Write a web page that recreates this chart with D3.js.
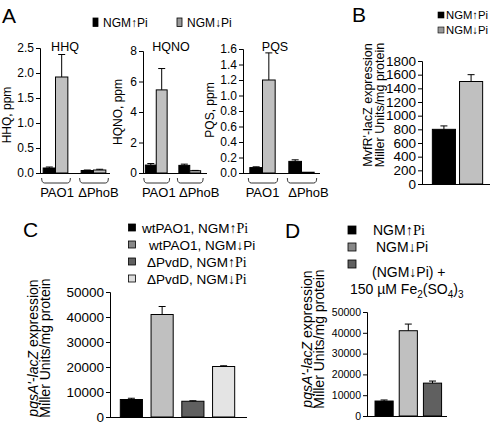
<!DOCTYPE html>
<html><head><meta charset="utf-8">
<script src="https://cdn.jsdelivr.net/npm/d3@7"></script>
<style>body{margin:0;background:#fff} svg{display:block}</style>
</head><body><svg id="c" width="490" height="428"></svg>
<script>
// ---------- DATA ----------
const groupsA = ["PAO1", "ΔPhoB"];
const seriesA = ["NGM↑Pi", "NGM↓Pi"];
const hhqHighPi = [0.10, 0.05];
const hhqLowPi = [1.92, 0.06];
const hhqHighErr = [0.02, 0.01];
const hhqLowErr = [0.45, 0.015];
const hhqTicks = [0, 0.5, 1.0, 1.5, 2.0, 2.5];
const hqnoHighPi = [0.52, 0.50];
const hqnoLowPi = [5.45, 0.15];
const hqnoHighErr = [0.10, 0.08];
const hqnoLowErr = [1.40, 0.02];
const hqnoTicks = [0, 2, 4, 6, 8];
const pqsHighPi = [0.07, 0.15];
const pqsLowPi = [1.20, 0.01];
const pqsHighErr = [0.01, 0.02];
const pqsLowErr = [0.35, 0.0];
const pqsTicks = [0, 0.2, 0.4, 0.6, 0.8, 1.0, 1.2, 1.4, 1.6];

const seriesB = ["NGM↑Pi", "NGM↓Pi"];
const valuesB = [800, 1500];
const errB = [50, 100];
const ticksB = [0, 200, 400, 600, 800, 1000, 1200, 1400, 1600, 1800];

const seriesC = ["wtPAO1, NGM↑Pi", "wtPAO1, NGM↓Pi", "ΔPvdD, NGM↑Pi", "ΔPvdD, NGM↓Pi"];
const valuesC = [7000, 41000, 6300, 20200];
const errC = [500, 3200, 200, 300];
const ticksC = [0, 10000, 20000, 30000, 40000, 50000];

const seriesD = ["NGM↑Pi", "NGM↓Pi", "(NGM↓Pi) +"];
const valuesD = [7200, 41000, 15800];
const errD = [500, 3200, 1000];
const ticksD = [0, 10000, 20000, 30000, 40000, 50000];

// ---------- STYLE ----------
const SANS = '"Liberation Sans", Arial, sans-serif';
const SERIF = '"Liberation Serif", "Times New Roman", serif';
const svg = d3.select("#c");

function yAxis(x, scale, ticks, fmt, fs) {
  const g = svg.append("g").attr("transform", `translate(${x},0)`)
    .call(d3.axisLeft(scale).tickValues(ticks).tickFormat(fmt).tickSizeOuter(0).tickSize(4).tickPadding(2));
  g.attr("font-family", SANS).attr("font-size", fs);
  g.selectAll("text").attr("fill", "#000");
  g.selectAll("line").attr("stroke", "#000");
  g.select(".domain").attr("stroke", "#000");
  return g;
}
function baseline(x1, x2, y) {
  svg.append("line").attr("x1", x1).attr("x2", x2).attr("y1", y + 0.5).attr("y2", y + 0.5)
    .attr("stroke", "#000").attr("stroke-width", 1);
}
function bar(x, w, y, v, e, fill) {
  svg.append("rect").attr("x", x).attr("y", y(v)).attr("width", w).attr("height", y(0) - y(v))
    .attr("fill", fill).attr("stroke", "#000").attr("stroke-width", 1);
  if (e > 0) {
    const cx = x + w / 2;
    svg.append("line").attr("x1", cx).attr("x2", cx).attr("y1", y(v)).attr("y2", y(v + e)).attr("stroke", "#000");
    svg.append("line").attr("x1", cx - 3.5).attr("x2", cx + 3.5).attr("y1", y(v + e)).attr("y2", y(v + e)).attr("stroke", "#000");
  }
}
function rotLabel(x, y, fs, parts) {
  const t = svg.append("text").attr("transform", `translate(${x},${y}) rotate(-90)`)
    .attr("text-anchor", "middle").attr("dy", "0.35em").attr("font-family", SANS).attr("font-size", fs).attr("fill", "#000");
  parts.forEach(p => t.append("tspan").attr("font-style", p[1] ? "italic" : "normal").text(p[0]));
}
function panelLetter(x, y, s) {
  svg.append("text").attr("x", x).attr("y", y).attr("font-family", SANS).attr("font-size", 21).text(s);
}

// ---------- PANEL A ----------
panelLetter(2, 23, "A");
const legA = [{x: 93, fill: "#000"}, {x: 177, fill: "#999"}];
seriesA.forEach((s, i) => {
  svg.append("rect").attr("x", legA[i].x).attr("y", 18).attr("width", 5).attr("height", 8.5)
    .attr("fill", legA[i].fill).attr("stroke", "#000").attr("stroke-width", 0.8);
  svg.append("text").attr("x", legA[i].x + 10).attr("y", 27).attr("font-family", SANS).attr("font-size", 12).text(s);
});

const subA = [
  {title: "HHQ", ylab: "HHQ, ppm", axisX: 40, top: 48, range: [36.5, 112.5], end: 110, titleX: 65, ylabX: 7, ylabY: 115, labDx: [1.5, 5],
   hi: hhqHighPi, lo: hhqLowPi, hiE: hhqHighErr, loE: hhqLowErr, ticks: hhqTicks, max: 2.5, fmt: d3.format(".1f")},
  {title: "HQNO", ylab: "HQNO, ppm", axisX: 143, top: 51, range: [139.5, 206.5], end: 207, titleX: 171, ylabX: 118, ylabY: 112, labDx: [2.5, 9.5],
   hi: hqnoHighPi, lo: hqnoLowPi, hiE: hqnoHighErr, loE: hqnoLowErr, ticks: hqnoTicks, max: 8, fmt: d3.format("d")},
  {title: "PQS", ylab: "PQS, ppm", axisX: 243, top: 49, range: [243, 321], end: 320, titleX: 275, ylabX: 210, ylabY: 110, labDx: [0, 7],
   hi: pqsHighPi, lo: pqsLowPi, hiE: pqsHighErr, loE: pqsLowErr, ticks: pqsTicks, max: 1.6, fmt: d3.format(".1f")}
];
const baseA = 173;
subA.forEach(p => {
  const y = d3.scaleLinear().domain([0, p.max]).range([baseA, p.top]);
  const xg = d3.scaleBand().domain(groupsA).range(p.range).paddingInner(0.35).paddingOuter(0.175);
  const xs = d3.scaleBand().domain(seriesA).range([0, xg.bandwidth()]);
  baseline(p.axisX, p.end, baseA);
  groupsA.forEach((g, gi) => {
    bar(xg(g) + xs(seriesA[0]), xs.bandwidth(), y, p.hi[gi], p.hiE[gi], "#000");
    bar(xg(g) + xs(seriesA[1]), xs.bandwidth(), y, p.lo[gi], p.loE[gi], "#c0c0c0");
    const x1 = xg(g) - 1.5, x2 = xg(g) + xg.bandwidth() + 2.5;
    svg.append("path").attr("d", `M${x1},178 Q${x1},183 ${x1 + 3},183 L${x2 - 3},183 Q${x2},183 ${x2},178`)
      .attr("fill", "none").attr("stroke", "#000").attr("stroke-width", 0.8);
    svg.append("text").attr("x", xg(g) + xg.bandwidth() / 2 + p.labDx[gi]).attr("y", 197).attr("text-anchor", "middle")
      .attr("font-family", SANS).attr("font-size", 13).text(g);
  });
  yAxis(p.axisX, y, p.ticks, p.fmt, 12);
  svg.append("text").attr("x", p.titleX).attr("y", 51).attr("text-anchor", "middle")
    .attr("font-family", SANS).attr("font-size", 12.5).text(p.title);
  rotLabel(p.ylabX, p.ylabY, 12, [[p.ylab, false]]);
});

// ---------- PANEL B ----------
panelLetter(352, 22, "B");
const legBFill = ["#000", "#999"];
seriesB.forEach((s, i) => {
  svg.append("rect").attr("x", 438).attr("y", 12 + i * 15).attr("width", 6).attr("height", 6)
    .attr("fill", legBFill[i]).attr("stroke", "#000").attr("stroke-width", 0.6);
  svg.append("text").attr("x", 446).attr("y", 19 + i * 15).attr("font-family", SANS).attr("font-size", 11.3).text(s);
});
{
  const y = d3.scaleLinear().domain([0, 1800]).range([184, 61]);
  const x = d3.scaleBand().domain(seriesB).range([431, 484]).paddingInner(0.15).paddingOuter(0.05);
  const fills = ["#000", "#c0c0c0"];
  baseline(422, 490, 184);
  seriesB.forEach((s, i) => bar(x(s), x.bandwidth(), y, valuesB[i], errB[i], fills[i]));
  yAxis(422, y, ticksB, d3.format("d"), 13.5);
  rotLabel(368, 105, 12.5, [["MvfR'-lacZ expression", false]]);
  rotLabel(380, 105, 12.5, [["Miller Units/mg protein", false]]);
}

// ---------- PANEL C ----------
panelLetter(23, 237, "C");
const legCFill = ["#000", "#888", "#606060", "#ddd"];
const legCSerifTail = [true, false, true, true];
const legCY = [228, 245, 262, 279];
const legCTextX = [142, 149, 147, 147];
seriesC.forEach((s, i) => {
  svg.append("rect").attr("x", 128.5).attr("y", legCY[i] - 4).attr("width", 7).attr("height", 7)
    .attr("fill", legCFill[i]).attr("stroke", "#000").attr("stroke-width", 0.8);
  const t = svg.append("text").attr("x", legCTextX[i]).attr("y", legCY[i] + 4.5).attr("font-size", 13.5).attr("font-family", SANS);
  if (legCSerifTail[i]) {
    const k = s.search(/[↑↓]/);
    t.append("tspan").text(s.slice(0, k));
    t.append("tspan").attr("font-family", SERIF).attr("font-size", 14).text(s.slice(k));
  } else t.text(s);
});
{
  const y = d3.scaleLinear().domain([0, 50000]).range([417, 292]);
  const x = d3.scaleBand().domain(seriesC).range([116, 239]).paddingInner(0.28).paddingOuter(0.14);
  const fills = ["#000", "#c0c0c0", "#606060", "#e4e4e4"];
  baseline(110, 247, 417);
  seriesC.forEach((s, i) => bar(x(s), x.bandwidth(), y, valuesC[i], errC[i], fills[i]));
  yAxis(110, y, ticksC, d3.format("d"), 13.5);
  rotLabel(33, 348, 14, [["pqsA'", true], ["-", false], ["lacZ", true], [" expression", false]]);
  rotLabel(45, 348, 14, [["Miller Units/mg protein", false]]);
}

// ---------- PANEL D ----------
panelLetter(285, 238, "D");
const legDFill = ["#000", "#888", "#606060"];
const legDY = [230, 247, 264];
const legDTextX = [373, 376, 372];
const legDSerifTail = [true, false, false];
seriesD.forEach((s, i) => {
  svg.append("rect").attr("x", 348).attr("y", legDY[i] - 4).attr("width", 8).attr("height", 8)
    .attr("fill", legDFill[i]).attr("stroke", "#000").attr("stroke-width", 0.8);
  const t = svg.append("text").attr("x", legDTextX[i]).attr("y", legDY[i] + 5 + (i === 2 ? 8 : 0))
    .attr("font-size", 14).attr("font-family", SANS);
  if (legDSerifTail[i]) {
    const k = s.search(/[↑↓]/);
    t.append("tspan").text(s.slice(0, k));
    t.append("tspan").attr("font-family", SERIF).attr("font-size", 14.5).text(s.slice(k));
  } else t.text(s);
});
{
  const t = svg.append("text").attr("x", 350).attr("y", 294).attr("font-size", 14).attr("font-family", SANS);
  t.append("tspan").text("150 µM Fe");
  t.append("tspan").attr("dy", 4).attr("font-size", 10).text("2");
  t.append("tspan").attr("dy", -4).text("(SO");
  t.append("tspan").attr("dy", 4).attr("font-size", 10).text("4");
  t.append("tspan").attr("dy", -4).text(")");
  t.append("tspan").attr("dy", 4).attr("font-size", 10).text("3");
}
{
  const y = d3.scaleLinear().domain([0, 50000]).range([416, 312]);
  const x = d3.scaleBand().domain(seriesD).range([372, 444.6]).paddingInner(0.25).paddingOuter(0.125);
  const fills = ["#000", "#c0c0c0", "#606060"];
  baseline(367, 447, 416);
  seriesD.forEach((s, i) => bar(x(s), x.bandwidth(), y, valuesD[i], errD[i], fills[i]));
  yAxis(367, y, ticksD, d3.format("d"), 10.5);
  rotLabel(307, 339, 14, [["pqsA'", true], ["-", false], ["lacZ", true], [" expression", false]]);
  rotLabel(319, 339, 14, [["Miller Units/mg protein", false]]);
}
</script></body></html>
